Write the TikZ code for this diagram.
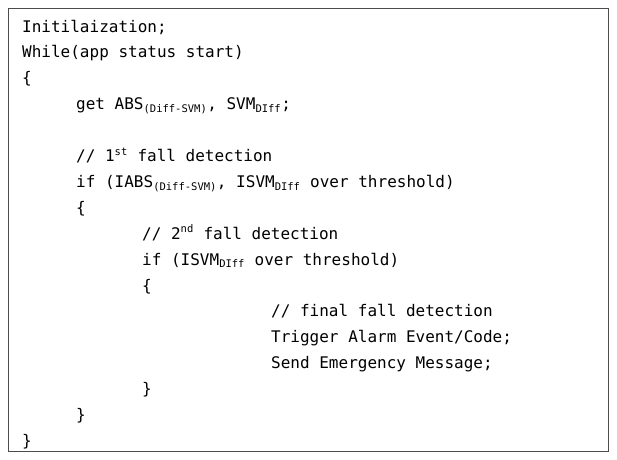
\documentclass[tikz,border=0pt]{standalone}
\usepackage{fontspec}
\setmonofont{DejaVu Sans Mono}
\begin{document}
\begin{tikzpicture}[x=1pt,y=-1pt,
  ln/.style={anchor=base west,inner sep=0pt,font=\ttfamily\fontsize{16}{18}\selectfont}]
\useasboundingbox (0,0) rectangle (617,459);
\draw[line width=0.8pt,black!70] (8,8) rectangle (608,451);
\newcommand\sbs[1]{\textsubscript{\fontsize{10.5}{12}\selectfont #1}}
\newcommand\sps[1]{\textsuperscript{\fontsize{10.5}{12}\selectfont #1}}
\def\b#1{\fpeval{32+25.9*#1}}
\node[ln] (l1) at (22,32) {Initilaization;};
\node[ln] (l2) at (22,57.9) {While(app status start)};
\node[ln] (l3) at (22,83.8) {\{};
\node[ln] (l4) at (76,109.7) {get ABS\sbs{(Diff-SVM)}, SVM\sbs{DIff};};
\node[ln] (l5) at (76,161.5) {// 1\sps{st} fall detection};
\node[ln] (l6) at (76,187.4) {if (IABS\sbs{(Diff-SVM)}, ISVM\sbs{DIff} over threshold)};
\node[ln] (l7) at (76,213.3) {\{};
\node[ln] (l8) at (142,239.2) {// 2\sps{nd} fall detection};
\node[ln] (l9) at (142,265.1) {if (ISVM\sbs{DIff} over threshold)};
\node[ln] (l10) at (142,291) {\{};
\node[ln] (l11) at (271,316.9) {// final fall detection};
\node[ln] (l12) at (271,342.8) {Trigger Alarm Event/Code;};
\node[ln] (l13) at (271,368.7) {Send Emergency Message;};
\node[ln] (l14) at (142,394.6) {\}};
\node[ln] (l15) at (76,420.5) {\}};
\node[ln] (l16) at (22,446.4) {\}};
\end{tikzpicture}
\end{document}
